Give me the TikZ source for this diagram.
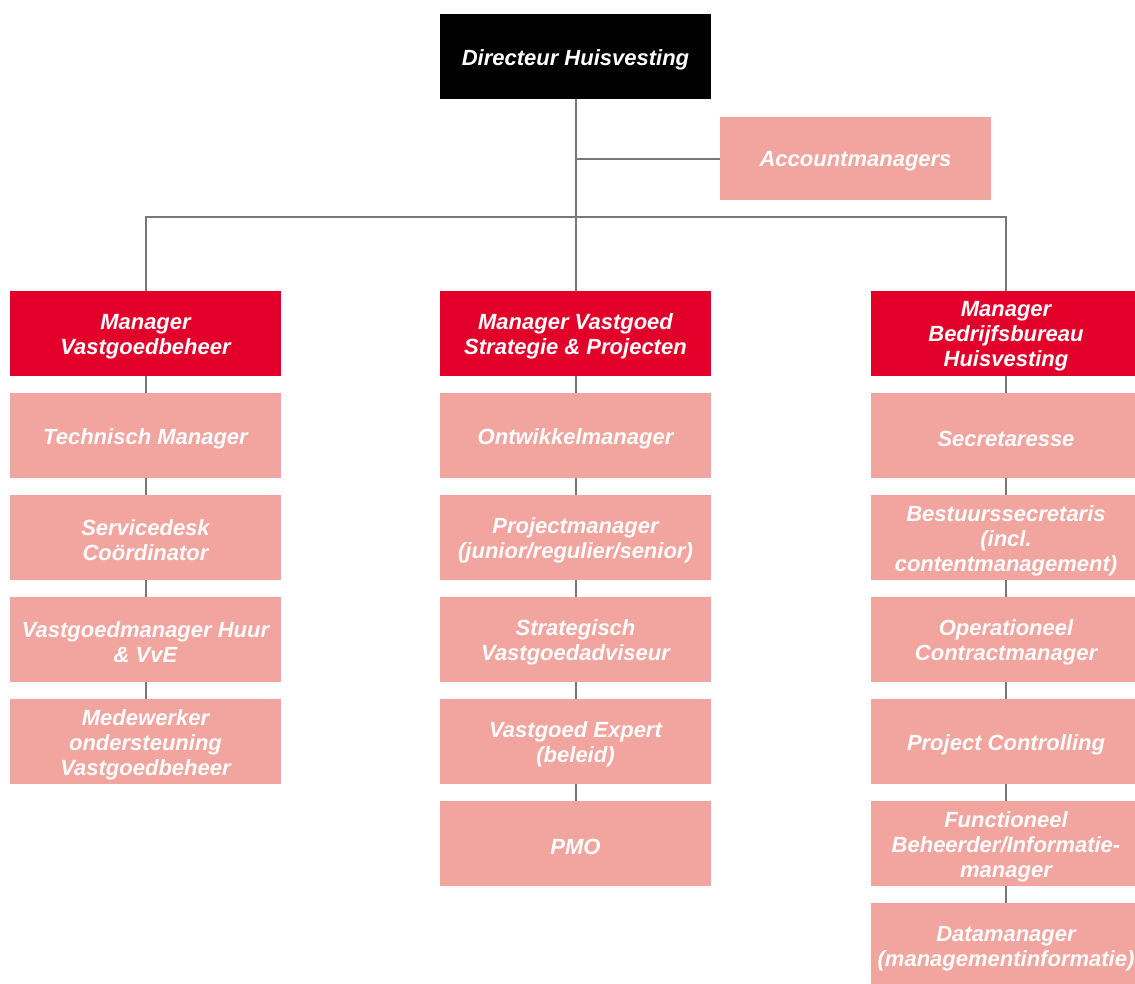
\documentclass[tikz,border=0pt]{standalone}
\usepackage{fontspec}
\setmainfont{Liberation Sans}
\definecolor{dirblack}{RGB}{0,0,0}
\definecolor{mgrred}{RGB}{226,0,43}
\definecolor{staffpink}{RGB}{242,165,158}
\definecolor{linegray}{RGB}{120,120,120}
\newcommand\orgbox[4]{%
  \node[#1] (#2) at (#3) {};
  \node[boxtext] (#2t) at ([yshift=-3pt]#2.center) {#4};}
\begin{document}
\begin{tikzpicture}[x=1pt,y=-1pt,
  box/.style={minimum width=271pt,minimum height=85pt,inner sep=0pt},
  boxtext/.style={inner sep=0pt,align=center,text=white,
    font=\fontsize{22}{25}\selectfont\bfseries\itshape},
  dirbox/.style={box,fill=dirblack},
  mgrbox/.style={box,fill=mgrred},
  staffbox/.style={box,fill=staffpink},
  accbox/.style={staffbox,minimum height=83pt},
  link/.style={draw=linegray,line width=2pt}]
\useasboundingbox (0,0) rectangle (1135,983);
\fill[white] (0,0) rectangle (1135,983);
\orgbox{dirbox}{D}{575.5,56.5}{Directeur Huisvesting}
\orgbox{accbox}{A}{855.5,158.5}{Accountmanagers}
\orgbox{mgrbox}{M1}{145.5,333.5}{Manager\\Vastgoedbeheer}
\orgbox{mgrbox}{M2}{575.5,333.5}{Manager Vastgoed\\Strategie \& Projecten}
\orgbox{mgrbox}{M3}{1006,333.5}{Manager\\Bedrijfsbureau\\Huisvesting}
% left column
\orgbox{staffbox}{L1}{145.5,435.5}{Technisch Manager}
\orgbox{staffbox}{L2}{145.5,537.5}{Servicedesk\\Coördinator}
\orgbox{staffbox}{L3}{145.5,639.5}{Vastgoedmanager Huur\\\& VvE}
\orgbox{staffbox}{L4}{145.5,741.5}{Medewerker\\ondersteuning\\Vastgoedbeheer}
% middle column
\orgbox{staffbox}{C1}{575.5,435.5}{Ontwikkelmanager}
\orgbox{staffbox}{C2}{575.5,537.5}{Projectmanager\\(junior/regulier/senior)}
\orgbox{staffbox}{C3}{575.5,639.5}{Strategisch\\Vastgoedadviseur}
\orgbox{staffbox}{C4}{575.5,741.5}{Vastgoed Expert\\(beleid)}
\orgbox{staffbox}{C5}{575.5,843.5}{PMO}
% right column
\orgbox{staffbox}{R1}{1006,435.5}{Secretaresse}
\orgbox{staffbox}{R2}{1006,537.5}{Bestuurssecretaris\\(incl.\\contentmanagement)}
\orgbox{staffbox}{R3}{1006,639.5}{Operationeel\\Contractmanager}
\orgbox{staffbox}{R4}{1006,741.5}{Project Controlling}
\orgbox{staffbox}{R5}{1006,843.5}{Functioneel\\Beheerder/Informatie-\\manager}
\orgbox{staffbox}{R6}{1006,945.5}{Datamanager\\(managementinformatie)}
\coordinate (bus) at (575.5,217);
\path[link] (D.south) -- (M2.north);
\path[link] (D.south |- A.west) -- (A.west);
\path[link] (M1.north) |- (bus) -| (M3.north);
\path[link] (M1.south) -- (L1.north) (L1.south) -- (L2.north) (L2.south) -- (L3.north) (L3.south) -- (L4.north);
\path[link] (M2.south) -- (C1.north) (C1.south) -- (C2.north) (C2.south) -- (C3.north) (C3.south) -- (C4.north) (C4.south) -- (C5.north);
\path[link] (M3.south) -- (R1.north) (R1.south) -- (R2.north) (R2.south) -- (R3.north) (R3.south) -- (R4.north) (R4.south) -- (R5.north) (R5.south) -- (R6.north);
\end{tikzpicture}
\end{document}
